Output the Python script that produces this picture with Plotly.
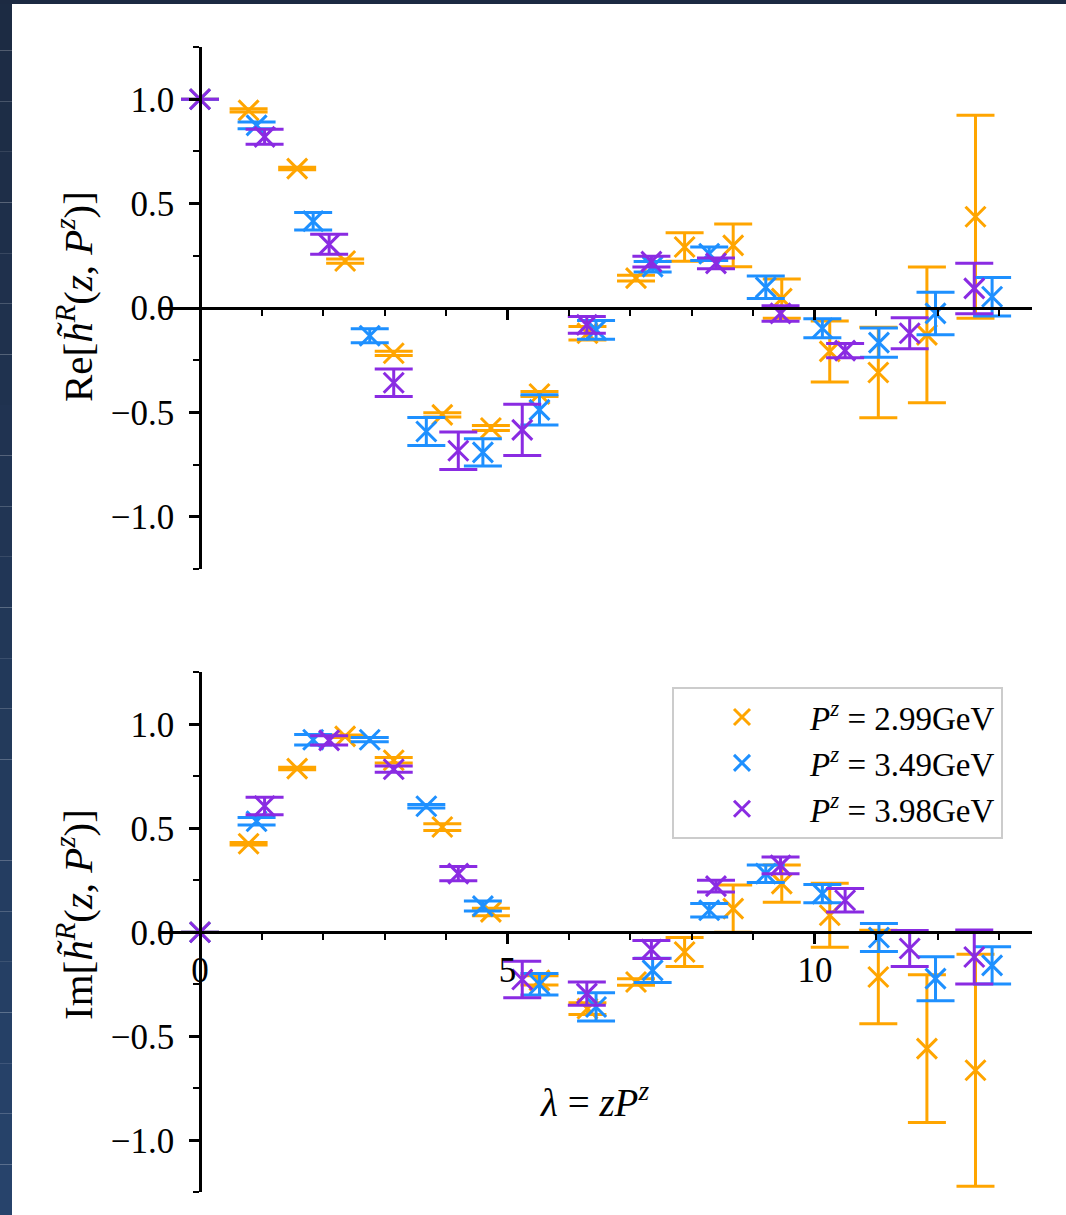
import plotly.graph_objects as go

W, H = 1066, 1215

# ---------------- data ----------------
lam_299 = [0.00, 0.79, 1.58, 2.36, 3.15, 3.94, 4.73, 5.52, 6.30, 7.09, 7.88, 8.67, 9.46, 10.24, 11.03, 11.82, 12.61]
re_299 = [1.000, 0.947, 0.668, 0.225, -0.217, -0.512, -0.575, -0.412, -0.121, 0.143, 0.292, 0.300, 0.045, -0.208, -0.309, -0.129, 0.437]
re_err_299 = [0.000, 0.008, 0.006, 0.010, 0.010, 0.010, 0.012, 0.012, 0.032, 0.014, 0.068, 0.102, 0.094, 0.146, 0.217, 0.325, 0.486]
im_299 = [0.000, 0.426, 0.787, 0.942, 0.827, 0.506, 0.098, -0.231, -0.367, -0.239, -0.095, 0.114, 0.234, 0.082, -0.215, -0.559, -0.663]
im_err_299 = [0.000, 0.006, 0.006, 0.006, 0.013, 0.016, 0.018, 0.022, 0.028, 0.016, 0.070, 0.114, 0.090, 0.154, 0.225, 0.355, 0.558]

lam_349 = [0.00, 0.92, 1.84, 2.76, 3.68, 4.60, 5.52, 6.44, 7.36, 8.28, 9.20, 10.12, 11.04, 11.96, 12.88]
re_349 = [1.000, 0.875, 0.416, -0.133, -0.592, -0.692, -0.488, -0.105, 0.198, 0.260, 0.099, -0.097, -0.166, -0.026, 0.054]
re_err_349 = [0.000, 0.016, 0.042, 0.033, 0.067, 0.065, 0.072, 0.045, 0.025, 0.032, 0.054, 0.046, 0.070, 0.102, 0.092]
im_349 = [0.000, 0.534, 0.926, 0.926, 0.606, 0.126, -0.250, -0.359, -0.183, 0.106, 0.282, 0.186, -0.025, -0.223, -0.159]
im_err_349 = [0.000, 0.018, 0.025, 0.010, 0.008, 0.024, 0.052, 0.068, 0.058, 0.032, 0.042, 0.044, 0.067, 0.106, 0.090]

lam_398 = [0.00, 1.05, 2.10, 3.15, 4.20, 5.24, 6.29, 7.34, 8.39, 9.44, 10.49, 11.54, 12.59]
re_398 = [1.000, 0.820, 0.305, -0.358, -0.684, -0.584, -0.081, 0.222, 0.214, -0.026, -0.204, -0.121, 0.094]
re_err_398 = [0.000, 0.036, 0.048, 0.066, 0.090, 0.123, 0.040, 0.026, 0.026, 0.037, 0.034, 0.074, 0.121]
im_398 = [0.000, 0.607, 0.923, 0.784, 0.282, -0.227, -0.295, -0.083, 0.222, 0.322, 0.154, -0.078, -0.119]
im_err_398 = [0.000, 0.042, 0.022, 0.015, 0.034, 0.088, 0.056, 0.043, 0.028, 0.040, 0.056, 0.087, 0.130]

series_names = [
    "<i>P</i><sup><i>z</i></sup> = 2.99GeV",
    "<i>P</i><sup><i>z</i></sup> = 3.49GeV",
    "<i>P</i><sup><i>z</i></sup> = 3.98GeV",
]
colors = ["#FFA500", "#1E90FF", "#8A2BE2"]

x_range = [-0.644, 13.524]
y_range = [-1.25, 1.25]
x_tick_vals = [0, 5, 10]
y_tick_vals = [-1.0, -0.5, 0.0, 0.5, 1.0]

# ---------------- helpers for pixel -> paper ----------------
def px_x(px):
    return px / W

def px_y(py):
    return 1 - py / H

FONT = "Liberation Serif, Times New Roman, serif"

fig = go.Figure()

all_series = [
    (lam_299, re_299, re_err_299, im_299, im_err_299),
    (lam_349, re_349, re_err_349, im_349, im_err_349),
    (lam_398, re_398, re_err_398, im_398, im_err_398),
]

for (lam, re, rerr, im, imerr), name, col in zip(all_series, series_names, colors):
    mk = dict(symbol="x-thin", size=20, color=col, line=dict(color=col, width=3))
    fig.add_trace(go.Scatter(
        x=lam, y=re, mode="markers", marker=mk, name=name, legendgroup=name,
        showlegend=False, xaxis="x", yaxis="y",
        error_y=dict(type="data", array=rerr, symmetric=True, color=col, thickness=3, width=19),
    ))
    fig.add_trace(go.Scatter(
        x=lam, y=im, mode="markers", marker=mk, name=name, legendgroup=name,
        showlegend=True, xaxis="x2", yaxis="y2",
        error_y=dict(type="data", array=imerr, symmetric=True, color=col, thickness=3, width=19),
    ))

x_dom = [px_x(160.4), px_x(1031.7)]
tickfont = dict(family=FONT, size=35, color="black")

def xaxis_cfg(pos, labels):
    return dict(
        domain=x_dom, range=x_range, anchor="free", position=pos,
        showline=True, linecolor="black", linewidth=2.5,
        ticks="outside", ticklen=10, tickwidth=2.5, tickcolor="black",
        tickvals=x_tick_vals, ticktext=[str(v) for v in x_tick_vals],
        showticklabels=labels, tickfont=tickfont, ticklabelstandoff=-4,
        minor=dict(dtick=1, tick0=0, ticks="outside", ticklen=6, tickwidth=2, tickcolor="black"),
        showgrid=False, zeroline=False,
    )

def yaxis_cfg(top_px, bottom_px):
    return dict(
        domain=[px_y(bottom_px), px_y(top_px)], range=y_range, anchor="free", position=px_x(200),
        showline=True, linecolor="black", linewidth=2.5,
        ticks="outside", ticklen=10, tickwidth=2.5, tickcolor="black",
        tickvals=y_tick_vals, tickformat=".1f", tickfont=tickfont, ticklabelstandoff=8,
        minor=dict(dtick=0.25, tick0=0, ticks="outside", ticklen=6, tickwidth=2, tickcolor="black"),
        showgrid=False, zeroline=False,
    )

fig.update_layout(
    width=W, height=H,
    margin=dict(l=0, r=0, t=0, b=0),
    paper_bgcolor="white", plot_bgcolor="white",
    xaxis=xaxis_cfg(px_y(308), False),
    yaxis=yaxis_cfg(47.1, 568.9),
    xaxis2=xaxis_cfg(px_y(932.3), True),
    yaxis2=yaxis_cfg(672.3, 1192.3),
    legend=dict(
        x=px_x(672), y=px_y(687), xanchor="left", yanchor="top",
        bgcolor="white", bordercolor="#cccccc", borderwidth=2,
        font=dict(family=FONT, size=33, color="black"),
        itemwidth=126, tracegroupgap=0,
    ),
    showlegend=True,
)

annots = [
    dict(text="Re[<i>h\u0303</i><sup><i>R</i></sup>(<i>z</i>, <i>P</i><sup><i>z</i></sup>)]",
         x=px_x(75), y=px_y(297), textangle=-90, size=41),
    dict(text="Im[<i>h\u0303</i><sup><i>R</i></sup>(<i>z</i>, <i>P</i><sup><i>z</i></sup>)]",
         x=px_x(75), y=px_y(915), textangle=-90, size=41),
    dict(text="<i>\u03bb</i> = <i>zP</i><sup><i>z</i></sup>",
         x=px_x(594), y=px_y(1100), textangle=0, size=39),
]
for a in annots:
    sz = a.pop("size")
    fig.add_annotation(xref="paper", yref="paper", xanchor="center", yanchor="middle",
                       showarrow=False, font=dict(family=FONT, size=sz, color="black"), **a)

# dark slide border (left and top strips) with a slight vertical gradient
c_top = (28, 42, 66)
c_bot = (39, 68, 108)
nseg = 24
for i in range(nseg):
    t = (i + 0.5) / nseg
    c = tuple(int(round(a + (b - a) * t)) for a, b in zip(c_top, c_bot))
    fig.add_shape(type="rect", xref="paper", yref="paper",
                  x0=0, x1=px_x(12), y0=1 - (i + 1) / nseg, y1=1 - i / nseg,
                  line=dict(width=0), fillcolor="rgb(%d,%d,%d)" % c, layer="above")
fig.add_shape(type="rect", xref="paper", yref="paper", x0=0, x1=1, y0=px_y(4), y1=1,
              line=dict(width=0), fillcolor="rgb(%d,%d,%d)" % c_top, layer="above")

fig.write_html(
    "out.html",
    config={"displayModeBar": False},
    post_script="document.body.style.margin='0px';document.body.style.padding='0px';",
)
